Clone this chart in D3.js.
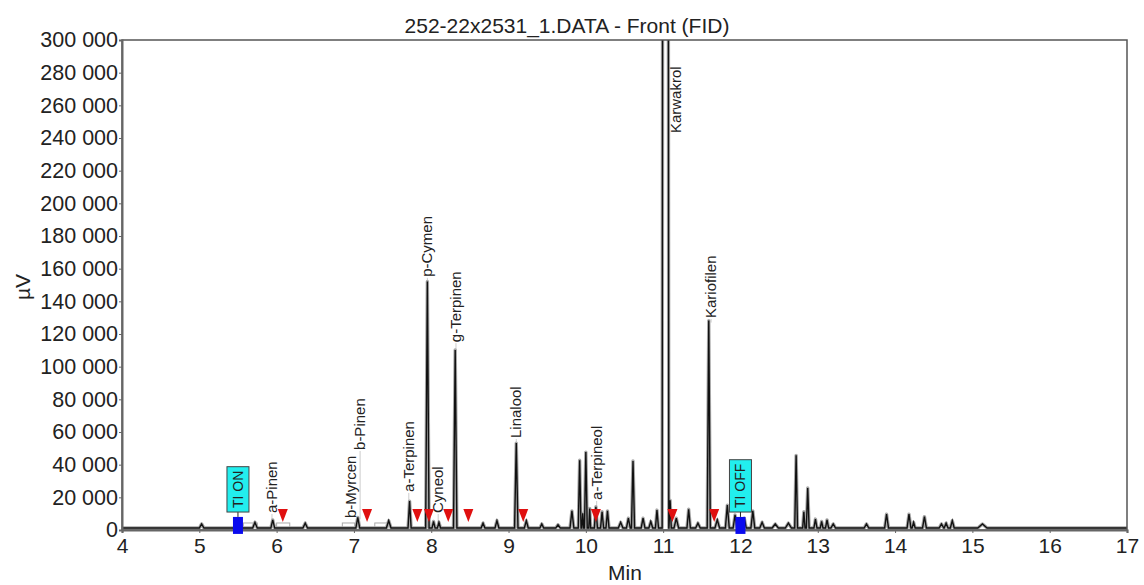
<!DOCTYPE html>
<html>
<head>
<meta charset="utf-8">
<script src="https://cdn.jsdelivr.net/npm/d3@7"></script>
<style>
  body { margin: 0; background: #fff; }
  svg text { font-family: "Liberation Sans", Arial, sans-serif; fill: #222; }
</style>
</head>
<body>
<div id="chart"></div>
<script>
// retention time (min) and height (µV) of each peak
const peakTimes = [5.03, 5.72, 5.95, 6.37, 7.05, 7.45, 7.72, 7.95, 8.03, 8.10, 8.31, 8.67, 8.85,
  9.10, 9.23, 9.43, 9.64, 9.82, 9.92, 9.96, 10.00, 10.05, 10.13, 10.21, 10.28, 10.45, 10.55,
  10.61, 10.74, 10.84, 10.92, 11.03, 11.09, 11.17, 11.33, 11.45, 11.59, 11.70, 11.83, 11.93,
  12.05, 12.16, 12.28, 12.45, 12.62, 12.72, 12.82, 12.87, 12.97, 13.05, 13.12, 13.20, 13.63,
  13.89, 14.18, 14.24, 14.38, 14.60, 14.66, 14.74, 15.13];
const peakHeights = [2500, 3500, 5000, 3000, 6500, 4500, 16500, 151000, 4000, 3500, 109000, 3000, 4500,
  52000, 4500, 2500, 2000, 10500, 41500, 9000, 46500, 12000, 13000, 10000, 10500, 3500, 6000,
  41000, 6000, 4000, 11000, 2500000, 17000, 6000, 11500, 3000, 127000, 5000, 14000, 8000,
  6000, 10500, 3500, 2500, 3000, 44500, 10000, 24500, 5500, 4000, 5000, 2500, 2500,
  8500, 8500, 3500, 7000, 2500, 3000, 4500, 2500];
const peakWidths = [0.03, 0.03, 0.025, 0.03, 0.025, 0.03, 0.02, 0.022, 0.02, 0.02, 0.022, 0.025, 0.025,
  0.022, 0.025, 0.025, 0.03, 0.025, 0.018, 0.012, 0.018, 0.012, 0.02, 0.02, 0.02, 0.03, 0.025,
  0.02, 0.025, 0.025, 0.02, 0.043, 0.015, 0.03, 0.022, 0.03, 0.02, 0.03, 0.025, 0.025,
  0.025, 0.025, 0.03, 0.04, 0.04, 0.018, 0.015, 0.018, 0.02, 0.018, 0.02, 0.03, 0.03,
  0.025, 0.025, 0.02, 0.025, 0.03, 0.025, 0.025, 0.06];
const baseLevel = 1200;

// compound labels: name, time, level (µV) where the label starts
const labelNames = ["a-Pinen", "b-Myrcen", "b-Pinen", "a-Terpinen", "p-Cymen", "Cyneol", "g-Terpinen",
  "Linalool", "a-Terpineol", "Karwakrol", "Kariofilen"];
const labelTimes = [5.94, 6.96, 7.08, 7.71, 7.95, 8.09, 8.32, 9.10, 10.14, 11.16, 11.62];
const labelLevels = [10400, 7300, 49000, 23300, 155000, 10400, 115000, 56300, 18400, 243000, 129800];
const labelPeaks = [5000, 6500, 6500, 16500, 151000, 3500, 109000, 52000, 13000, 300000, 127000];

// peak end markers
const markerTimes = [6.08, 7.17, 7.82, 7.97, 8.22, 8.48, 9.19, 10.13, 11.12, 11.66];

// timed events
const eventNames = ["TI ON", "TI OFF"];
const eventTimes = [5.5, 12.0];

// integration boxes near the baseline
const boxStarts = [5.57, 6.0, 6.85, 7.27];
const boxEnds = [5.75, 6.17, 7.01, 7.44];

const xTicks = [4, 5, 6, 7, 8, 9, 10, 11, 12, 13, 14, 15, 16, 17];
const yTicks = [0, 20000, 40000, 60000, 80000, 100000, 120000, 140000, 160000, 180000, 200000,
  220000, 240000, 260000, 280000, 300000];

const width = 1144, height = 585;
const margin = { top: 40, right: 17, bottom: 55, left: 122 };

const svg = d3.select('#chart').append('svg')
  .attr('width', width)
  .attr('height', height);

const x = d3.scaleLinear().domain([4, 17]).range([margin.left, width - margin.right]);
const y = d3.scaleLinear().domain([0, 300000]).range([height - margin.bottom, margin.top]);

const fmt = d3.formatLocale({ decimal: ",", thousands: " ", grouping: [3], currency: ["", ""] }).format(",d");

// title
svg.append('text')
  .attr('x', 567).attr('y', 33)
  .attr('text-anchor', 'middle')
  .attr('font-size', '21px')
  .text('252-22x2531_1.DATA - Front (FID)');

svg.append('clipPath').attr('id', 'plot-clip')
  .append('rect')
  .attr('x', x(4)).attr('y', y(300000))
  .attr('width', x(17) - x(4)).attr('height', y(0) - y(300000) + 6);

// integration boxes
svg.append('g').selectAll('rect')
  .data(boxStarts.map((s, i) => [s, boxEnds[i]]))
  .enter().append('rect')
  .attr('x', d => x(d[0]))
  .attr('y', y(4300))
  .attr('width', d => x(d[1]) - x(d[0]))
  .attr('height', y(0) - y(4300))
  .attr('fill', 'none')
  .attr('stroke', '#aaa')
  .attr('stroke-width', 1);

// label leader lines
svg.append('g').selectAll('line')
  .data(labelNames.map((n, i) => i))
  .enter().append('line')
  .attr('x1', i => x(labelTimes[i]))
  .attr('x2', i => x(labelTimes[i]))
  .attr('y1', i => y(labelLevels[i]) + 1)
  .attr('y2', i => Math.max(y(labelLevels[i]) + 1, y(labelPeaks[i])))
  .attr('stroke', '#ccc')
  .attr('stroke-width', 1);

// trace points
const pts = [[4, baseLevel], [17, baseLevel]];
peakTimes.forEach((t, i) => {
  pts.push([t - peakWidths[i], baseLevel]);
  pts.push([t, baseLevel + peakHeights[i]]);
  pts.push([t + peakWidths[i], baseLevel]);
});
pts.sort((a, b) => a[0] - b[0]);

const line = d3.line().x(d => x(d[0])).y(d => y(d[1]));

const trace = svg.append('g').attr('clip-path', 'url(#plot-clip)');
trace.append('path')
  .datum(pts)
  .attr('fill', 'none')
  .attr('stroke', '#a8a8a8')
  .attr('stroke-width', 3.4)
  .attr('stroke-linejoin', 'round')
  .attr('d', line);
trace.append('path')
  .datum(pts)
  .attr('fill', 'none')
  .attr('stroke', '#111')
  .attr('stroke-width', 1.4)
  .attr('d', line);

// frame
svg.append('rect')
  .attr('x', x(4)).attr('y', y(300000))
  .attr('width', x(17) - x(4)).attr('height', y(0) - y(300000))
  .attr('fill', 'none')
  .attr('stroke', '#555')
  .attr('stroke-width', 1.5);

// axes
const yAxis = svg.append('g')
  .attr('transform', `translate(${x(4)},0)`)
  .call(d3.axisLeft(y).tickValues(yTicks).tickFormat(fmt).tickSize(3).tickPadding(1));
yAxis.select('.domain').attr('stroke', '#666').attr('stroke-width', 2);
yAxis.selectAll('.tick line').attr('stroke', '#666');
yAxis.selectAll('text').attr('font-size', '21.5px').attr('fill', '#222')
  .attr('font-family', '"Liberation Sans", Arial, sans-serif');

const xAxis = svg.append('g')
  .attr('transform', `translate(0,${y(0)})`)
  .call(d3.axisBottom(x).tickValues(xTicks).tickFormat(d3.format('d')).tickSize(3).tickPadding(5));
xAxis.select('.domain').attr('stroke', '#666').attr('stroke-width', 2.2);
xAxis.selectAll('.tick line').attr('stroke', '#666');
xAxis.selectAll('text').attr('font-size', '21px').attr('fill', '#222')
  .attr('font-family', '"Liberation Sans", Arial, sans-serif');

svg.append('text')
  .attr('x', 625).attr('y', 580)
  .attr('text-anchor', 'middle')
  .attr('font-size', '21px')
  .text('Min');

svg.append('text')
  .attr('transform', 'translate(30,287) rotate(-90)')
  .attr('text-anchor', 'middle')
  .attr('font-size', '21px')
  .text('µV');

// compound labels
svg.append('g').selectAll('text')
  .data(labelNames)
  .enter().append('text')
  .attr('transform', (d, i) => `translate(${x(labelTimes[i]) + 5},${y(labelLevels[i])}) rotate(-90)`)
  .attr('text-anchor', 'start')
  .attr('font-size', '15px')
  .attr('fill', '#333')
  .text(d => d);

// red markers
const tri = 5;
svg.append('g').selectAll('path')
  .data(markerTimes)
  .enter().append('path')
  .attr('d', t => {
    const cx = x(t), tip = y(4900);
    return `M${cx - tri},${tip - 13}L${cx + tri},${tip - 13}L${cx},${tip}Z`;
  })
  .attr('fill', '#e01010');

// timed events
const ev = svg.append('g');
eventNames.forEach((name, i) => {
  const cx = x(eventTimes[i]);
  ev.append('line')
    .attr('x1', cx).attr('x2', cx)
    .attr('y1', y(8000)).attr('y2', y(11000))
    .attr('stroke', '#222').attr('stroke-width', 1);
  ev.append('rect')
    .attr('x', cx - 5).attr('y', y(8000))
    .attr('width', 10).attr('height', y(-2400) - y(8000))
    .attr('fill', '#0a0aee');
  const label = ev.append('text')
    .attr('transform', `translate(${cx + 5},${y(11000) - 4}) rotate(-90)`)
    .attr('text-anchor', 'start')
    .attr('font-size', '14px')
    .attr('fill', '#111')
    .text(name);
  const len = label.node().getComputedTextLength();
  ev.insert('rect', 'text')
    .attr('x', cx - 11).attr('y', y(11000) - len - 8)
    .attr('width', 22).attr('height', len + 8)
    .attr('fill', '#22eeee')
    .attr('stroke', '#444').attr('stroke-width', 1);
});
</script>
</body>
</html>
